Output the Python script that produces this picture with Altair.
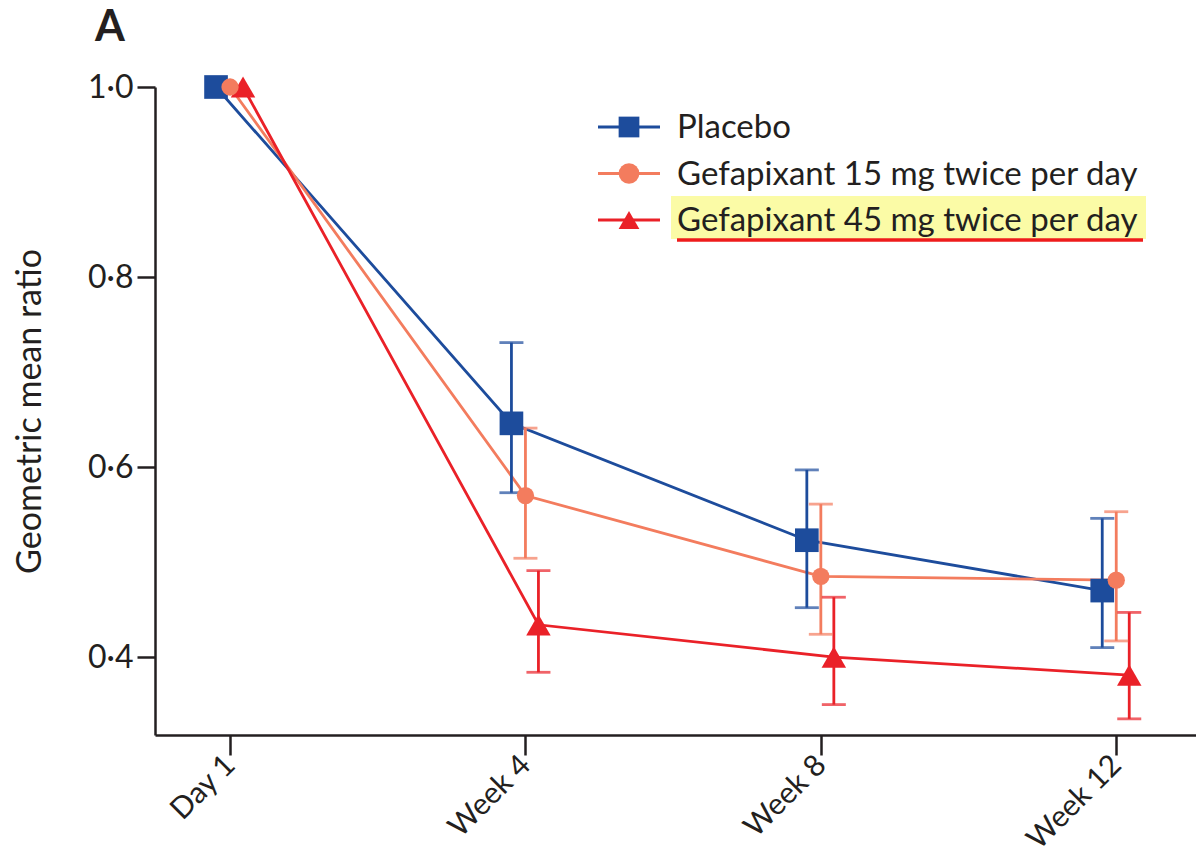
import altair as alt
import pandas as pd

# ---------------- data ----------------
timepoints = ["Day 1", "Week 4", "Week 8", "Week 12"]
weeks = [0, 4, 8, 12]

series_names = ["Placebo", "Gefapixant 15 mg twice per day", "Gefapixant 45 mg twice per day"]
series_colors = ["#1d4c9c", "#f37c5e", "#ea2128"]
series_shapes = ["square", "circle", "triangle-up"]

placebo_mean = [1.0, 0.646, 0.523, 0.470]
placebo_lo = [None, 0.573, 0.452, 0.410]
placebo_hi = [None, 0.731, 0.597, 0.546]

g15_mean = [1.0, 0.570, 0.485, 0.481]
g15_lo = [None, 0.504, 0.424, 0.417]
g15_hi = [None, 0.641, 0.561, 0.553]

g45_mean = [1.0, 0.434, 0.400, 0.381]
g45_lo = [None, 0.384, 0.350, 0.335]
g45_hi = [None, 0.491, 0.463, 0.447]

y_ticks = [0.4, 0.6, 0.8, 1.0]

# ---------------- build table ----------------
rows = []
for name, m, lo, hi in zip(series_names,
                           [placebo_mean, g15_mean, g45_mean],
                           [placebo_lo, g15_lo, g45_lo],
                           [placebo_hi, g15_hi, g45_hi]):
    for w, mv, l, h in zip(weeks, m, lo, hi):
        rows.append({"series": name, "week": w, "value": mv, "lo": l, "hi": h})
df = pd.DataFrame(rows)

legend_df = pd.DataFrame({"series": series_names, "row": [0, 1, 2]})

FONT = "Lato"
INK = "#231f20"
LW = 2.8

label_js = "[" + ",".join("'%s'" % t for t in timepoints) + "][datum.value/4]"

xscale = alt.Scale(domain=[-1.016, 13.08], nice=False, zero=False)
yscale = alt.Scale(domain=[0.318, 1.0], nice=False, zero=False)
xaxis = alt.Axis(values=weeks, labelExpr=label_js, title=None, grid=False,
                 labelAngle=-45, labelAlign="right", labelBaseline="middle",
                 labelFontSize=30, labelPadding=5, tickSize=20)
yaxis = alt.Axis(values=y_ticks, labelExpr="replace(format(datum.value, '.1f'), '.', '·')",
                 title="Geometric mean ratio", grid=False, labelFontSize=32,
                 titleFontSize=34, titleFontWeight="normal", titlePadding=40,
                 tickSize=18, labelPadding=4)

color = alt.Color("series:N", scale=alt.Scale(domain=series_names, range=series_colors), legend=None)
shape = alt.Shape("series:N", scale=alt.Scale(domain=series_names, range=series_shapes), legend=None)

offsets = {series_names[0]: -14, series_names[1]: 0, series_names[2]: 13}
sizes = {series_names[0]: 560, series_names[1]: 300, series_names[2]: 600}

base = alt.Chart(df)
lines, errs, caps, pts = [], [], [], []
for name in series_names:
    b = base.transform_filter(alt.datum.series == name)
    dx = offsets[name]
    lines.append(b.mark_line(strokeWidth=LW, xOffset=dx).encode(
        x=alt.X("week:Q", scale=xscale, axis=xaxis),
        y=alt.Y("value:Q", scale=yscale, axis=yaxis),
        color=color))
    eb = b.transform_filter("isValid(datum.lo)")
    errs.append(eb.mark_rule(strokeWidth=LW, xOffset=dx).encode(
        x=alt.X("week:Q", scale=xscale, axis=xaxis),
        y=alt.Y("lo:Q", scale=yscale, axis=yaxis),
        y2="hi:Q", color=color))
    for fld in ["lo", "hi"]:
        caps.append(eb.mark_tick(orient="horizontal", size=24, thickness=LW, xOffset=dx).encode(
            x=alt.X("week:Q", scale=xscale, axis=xaxis),
            y=alt.Y(fld + ":Q", scale=yscale, axis=yaxis),
            color=color))
for name in [series_names[0], series_names[2], series_names[1]]:
    b = base.transform_filter(alt.datum.series == name)
    pts.append(b.mark_point(filled=True, opacity=1, size=sizes[name], xOffset=offsets[name]).encode(
        x=alt.X("week:Q", scale=xscale, axis=xaxis),
        y=alt.Y("value:Q", scale=yscale, axis=yaxis),
        color=color, shape=shape))

main = alt.layer(*lines, *errs, *caps, *pts)

# ---------------- legend (drawn in the plot's top right) ----------------
ly = alt.Y("row:Q", scale=alt.Scale(domain=[0, 2], range=[40, 133]), axis=None)
lbase = alt.Chart(legend_df)
one = pd.DataFrame({"k": [0]})
highlight = alt.Chart(one).mark_rect(color="#fbfba6").encode(
    x=alt.value(516), x2=alt.value(991), y=alt.value(109), y2=alt.value(152))
underline = alt.Chart(one).mark_rule(color="#ee1c1c", strokeWidth=3.5).encode(
    x=alt.value(522), x2=alt.value(988), y=alt.value(153))
leg_line = lbase.mark_rule(strokeWidth=LW).encode(
    x=alt.value(443), x2=alt.value(505), y=ly, color=color)
leg_pts = lbase.mark_point(filled=True, opacity=1, size=430).encode(
    x=alt.value(474), y=ly, color=color, shape=shape)
leg_txt = lbase.mark_text(align="left", baseline="middle", font=FONT, fontSize=33, color=INK, dy=1).encode(
    x=alt.value(522), y=ly, text="series:N")
legend = alt.layer(highlight, underline, leg_line, leg_pts, leg_txt)

chart = alt.layer(main, legend).resolve_scale(y="independent").properties(
    width=1041, height=648,
    autosize="none",
    padding={"left": 147, "top": 79, "right": 0, "bottom": 112},
    title=alt.TitleParams("A", anchor="start", frame="group", dx=-60, offset=21,
                          fontSize=43, fontWeight="bold", font=FONT, color=INK),
).configure_view(stroke=None).configure_axis(
    domainColor=INK, domainWidth=2.5, tickColor=INK, tickWidth=2.5,
    labelColor=INK, titleColor=INK, labelFont=FONT, titleFont=FONT,
)

chart.save("out.html", embed_options={"renderer": "svg", "actions": False})
